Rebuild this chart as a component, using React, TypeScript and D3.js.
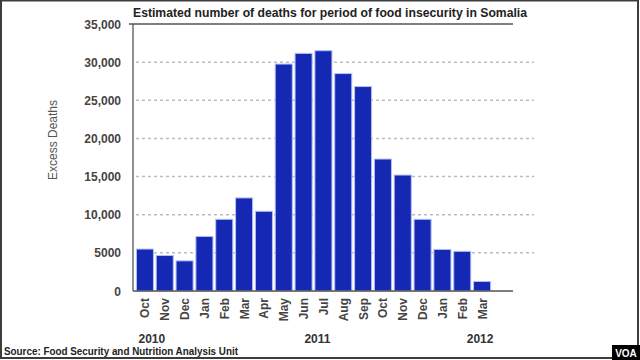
import React from "react";
import * as d3 from "d3";

const months = ["Oct","Nov","Dec","Jan","Feb","Mar","Apr","May","Jun","Jul","Aug","Sep","Oct","Nov","Dec","Jan","Feb","Mar"];
const deaths = [5500, 4650, 3950, 7150, 9400, 12200, 10450, 29750, 31150, 31500, 28500, 26800, 17300, 15200, 9400, 5450, 5200, 1250];
const yTicks = [0, 5000, 10000, 15000, 20000, 25000, 30000, 35000];
const yTickLabels = ["0", "5000", "10,000", "15,000", "20,000", "25,000", "30,000", "35,000"];
const years = [{ label: "2010", at: 0.35 }, { label: "2011", at: 8.7 }, { label: "2012", at: 16.9 }];

const title = "Estimated number of deaths for period of food insecurity in Somalia";
const yTitle = "Excess Deaths";
const source = "Source: Food Security and Nutrition Analysis Unit";

export default function App() {
  const W = 640, H = 360;
  const idx = months.map((_, i) => String(i));
  const x = d3.scaleBand<string>().domain(idx).range([135, 492]).paddingInner(0.14).paddingOuter(0.07);
  const y = d3.scaleLinear().domain([0, 35000]).range([291, 24]);
  const axisX = 133;
  const font = "Liberation Sans, Arial, Helvetica, sans-serif";
  const step = x.step();

  return (
    <svg width={W} height={H} style={{ position: "absolute", left: 0, top: 0, background: "#fff" }} fontFamily={font}>
      <rect x={0} y={0} width={W} height={H} fill="#fff" />
      <rect x={1} y={0.5} width={637} height={357.5} fill="none" stroke="#3c3c3c" strokeWidth={2} />
      <text x={133} y={17} fontSize={12} fontWeight="bold" fill="#222" textLength={394} lengthAdjust="spacingAndGlyphs">{title}</text>

      {yTicks.filter(t => t > 0 && t < 35000).map(t => (
        <line key={"g" + t} x1={axisX + 3} x2={534} y1={y(t)} y2={y(t)} stroke="#bdbdbd" strokeWidth={1.5} strokeDasharray="3,3" />
      ))}
      <line x1={129} x2={513} y1={y(35000)} y2={y(35000)} stroke="#555" strokeWidth={1.3} />

      {deaths.map((v, i) => (
        <rect key={i} x={x(String(i))} y={y(v)} width={x.bandwidth()} height={y(0) - y(v)} fill="#1428b4" stroke="#b4c0f2" strokeWidth={1} />
      ))}

      <line x1={axisX} x2={axisX} y1={y(35000)} y2={y(0)} stroke="#555" strokeWidth={1.3} />
      <line x1={axisX} x2={513} y1={y(0)} y2={y(0)} stroke="#555" strokeWidth={1.3} />

      {yTicks.map((t, i) => (
        <text key={"t" + t} x={121} y={y(t) + 4.5} textAnchor="end" fontSize={12} fontWeight="bold" fill="#444">{yTickLabels[i]}</text>
      ))}

      <text transform={`translate(57,140) rotate(-90)`} textAnchor="middle" fontSize={12} fill="#555">{yTitle}</text>

      {months.map((m, i) => {
        const cx = (x(String(i)) as number) + x.bandwidth() / 2;
        return (
          <text key={"m" + i} transform={`translate(${cx + 4.5},298) rotate(-90)`} textAnchor="end" fontSize={12} fontWeight="bold" fill="#444">{m}</text>
        );
      })}

      {years.map(yr => (
        <text key={yr.label} x={(x("0") as number) + step * yr.at + x.bandwidth() / 2} y={343} textAnchor="middle" fontSize={12} fontWeight="bold" fill="#333">{yr.label}</text>
      ))}

      <text x={4} y={355} fontSize={11} fontWeight="bold" fill="#222" textLength={234} lengthAdjust="spacingAndGlyphs">{source}</text>

      <rect x={612} y={345} width={28} height={15} fill="#000" />
      <text x={626} y={356.5} textAnchor="middle" fontSize={10} fontWeight="bold" fill="#fff">VOA</text>
    </svg>
  );
}
